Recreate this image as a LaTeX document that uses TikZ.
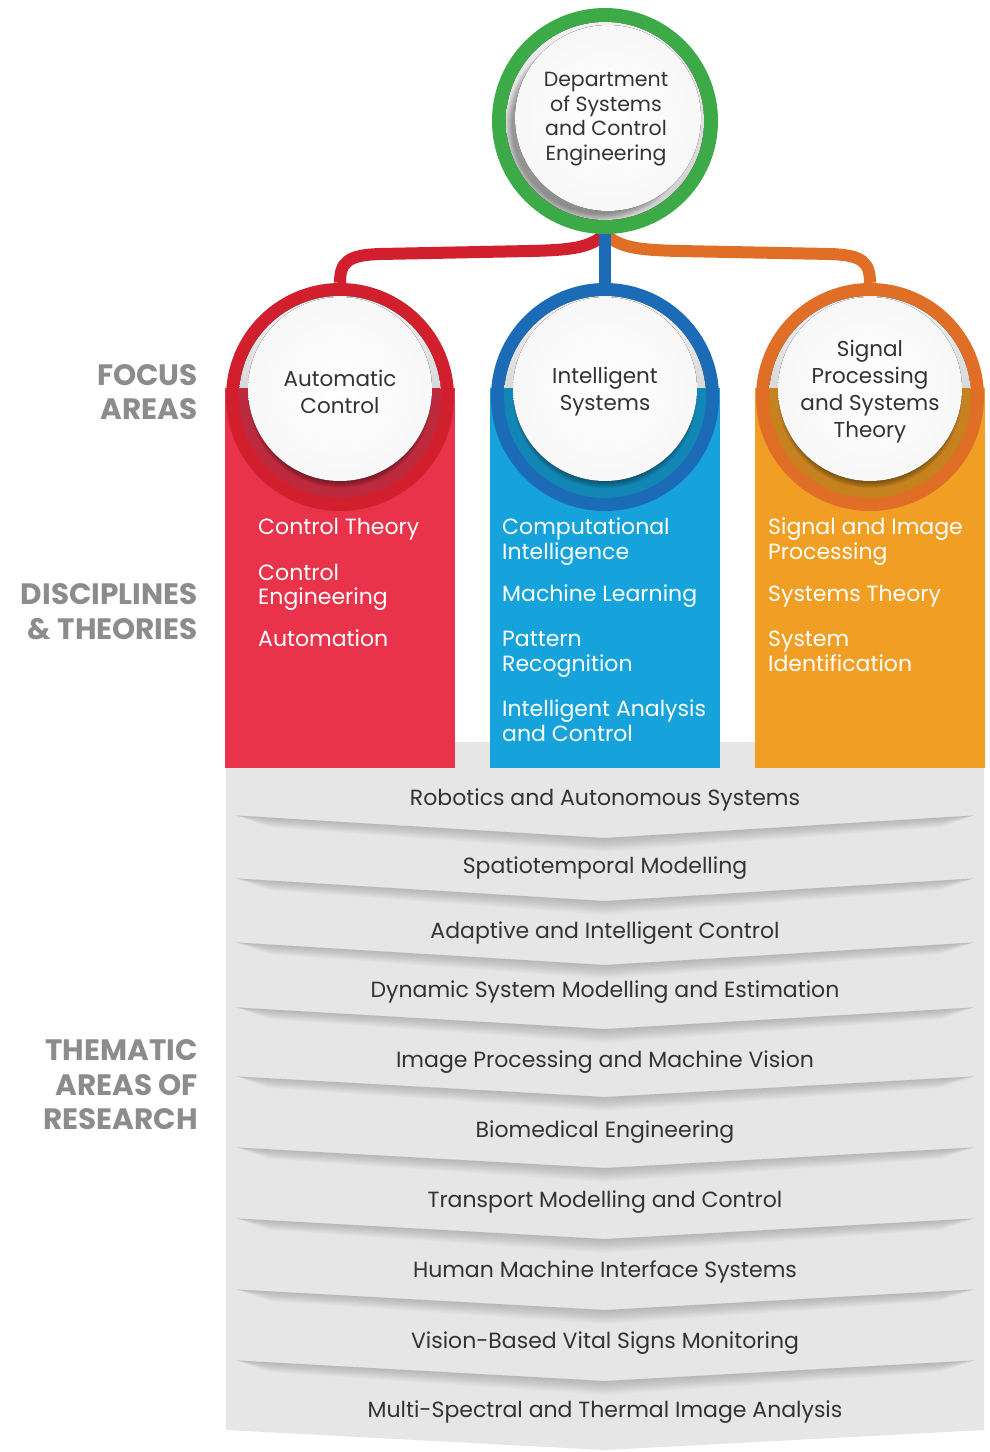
\documentclass[tikz,border=0pt]{standalone}
\usepackage{fontspec}
\setmainfont{Poppins}
\usetikzlibrary{calc}
\definecolor{ringgreen}{HTML}{3BAA47}
\definecolor{ringred}{HTML}{D21F2E}
\definecolor{colred}{HTML}{E8334A}
\definecolor{ringblue}{HTML}{1B6BB7}
\definecolor{colblue}{HTML}{16A3DC}
\definecolor{ringorange}{HTML}{E06E27}
\definecolor{colorange}{HTML}{F19F24}
\definecolor{bandgray}{HTML}{E6E6E6}
\definecolor{labelgray}{HTML}{8C8C8C}
\definecolor{inkgray}{HTML}{333333}
\pgfdeclarelayer{bg}
\pgfsetlayers{bg,main}

% one focus-area ring: name, centre x, ring colour, column colour, label
\newcommand\focusring[5]{%
  \node[ringnode=#3] (#1) at (#2,397) {};
  \begin{scope}
    \clip (#2,397) circle (101);
    \fill[top color=gray!10, bottom color=gray!30] ({#2-101},296) rectangle ({#2+101},388);
    \fill[#4!82!black] ({#2-101},388) rectangle ({#2+101},498);
    \foreach \r in {0,...,6}{\fill[black,opacity=0.06] (#2,396) circle ({86+\r});}
  \end{scope}
  \fill[inner color=white, outer color=gray!6] (#2,389) circle (92);
  \node[circtext] (#1-label) at (#2,392) {#5};
}

\begin{document}
\begin{tikzpicture}[x=1pt,y=-1pt,
  ringnode/.style={circle, inner sep=0pt, minimum size=228pt, fill=#1},
  link/.style={line width=12pt, draw=#1},
  circtext/.style={align=center, text=inkgray, inner sep=0pt, font=\fontsize{21.5}{27}\selectfont},
  coltext/.style={align=left, text=white, anchor=north west, inner sep=0pt, font=\fontsize{22}{24.5}\selectfont},
  bandtext/.style={text=inkgray, anchor=base, inner sep=0pt, font=\fontsize{22}{24}\selectfont},
  sidelabel/.style={align=right, text=labelgray, anchor=east, inner sep=0pt, font=\bfseries\fontsize{29.5}{34.5}\selectfont},
]
\useasboundingbox (0,0) rectangle (989,1452);

% department ring
\node[ringnode=ringgreen, minimum size=226pt] (dept) at (605,121) {};
\begin{scope}
  \clip (605,121) circle (99);
  \fill[top color=gray!12, bottom color=gray!38] (506,22) rectangle (704,220);
  \foreach \r in {0,...,6}{\fill[black,opacity=0.05] (600,126) circle ({88+\r});}
\end{scope}
\fill[inner color=white, outer color=gray!6] (608,118) circle (93);
\node[circtext, font=\fontsize{20.5}{24.6}\selectfont] (dept-label) at (606,119)
  {Department\\of Systems\\and Control\\Engineering};

% focus areas
\focusring{ac}{340}{ringred}{colred}{Automatic\\Control}
\focusring{is}{605}{ringblue}{colblue}{Intelligent\\Systems}
\focusring{sp}{870}{ringorange}{colorange}{Signal\\Processing\\and Systems\\Theory}

% disciplines and theories
\node[coltext] (ac-d1) at (258,518) {Control Theory};
\node[coltext] (ac-d2) at (258,564) {Control\\Engineering};
\node[coltext] (ac-d3) at (258,630) {Automation};
\node[coltext] (is-d1) at (502,518) {Computational\\Intelligence};
\node[coltext] (is-d2) at (502,585) {Machine Learning};
\node[coltext] (is-d3) at (502,631) {Pattern\\Recognition};
\node[coltext] (is-d4) at (502,700) {Intelligent Analysis\\and Control};
\node[coltext] (sp-d1) at (768,518) {Signal and Image\\Processing};
\node[coltext] (sp-d2) at (768,585) {Systems Theory};
\node[coltext] (sp-d3) at (768,631) {System\\Identification};

% thematic areas of research
\node[bandtext] (t1) at (605,805.5) {Robotics and Autonomous Systems};
\node[bandtext] (t2) at (605,873.5) {Spatiotemporal Modelling};
\node[bandtext] (t3) at (605,938.5) {Adaptive and Intelligent Control};
\node[bandtext] (t4) at (605,997.5) {Dynamic System Modelling and Estimation};
\node[bandtext] (t5) at (605,1067.5) {Image Processing and Machine Vision};
\node[bandtext] (t6) at (605,1137.5) {Biomedical Engineering};
\node[bandtext] (t7) at (605,1207.5) {Transport Modelling and Control};
\node[bandtext] (t8) at (605,1277.5) {Human Machine Interface Systems};
\node[bandtext] (t9) at (605,1348.5) {Vision-Based Vital Signs Monitoring};
\node[bandtext] (t10) at (605,1417.5) {Multi-Spectral and Thermal Image Analysis};

% row labels
\node[sidelabel] (lab-focus) at (198,392) {FOCUS\\AREAS};
\node[sidelabel] (lab-disc) at (198,611.5) {DISCIPLINES\\\&~THEORIES};
\node[sidelabel] (lab-them) at (198,1085) {THEMATIC\\AREAS OF\\RESEARCH};

\begin{pgfonlayer}{bg}
  \fill[white] (0,0) rectangle (989,1452);
  % research band with chevron folds
  \fill[bandgray] (226,742) -- (984,742) -- (984,1430) -- (605,1450) -- (226,1430) -- cycle;
  \foreach \e/\a in {815/838,878/901,942/965,1007/1029,1076/1097,1147/1168,1218/1239,1289/1310,1360/1381}{
    \pgfmathsetmacro\d{\a-\e}
    \foreach \k in {1,...,10}{
      \pgfmathsetmacro\s{1.4*\k}
      \fill[black,opacity=0.018] (236,{\e+0.02*\d}) -- (605,\a) -- (974,{\e+0.02*\d})
        -- (940,{\e+0.11*\d+0.7*\s}) -- (605,{\a+\s}) -- (270,{\e+0.11*\d+0.7*\s}) -- cycle;
    }
  }
  % columns
  \fill[colred] (225,388) rectangle (455,768);
  \fill[colblue] (490,388) rectangle (720,768);
  \fill[colorange] (755,388) rectangle (985,768);
  % links from the department to the focus areas
  \draw[link=ringred] (dept.south) .. controls (590,247) and (575,250) .. (530,251)
    -- (380,254) .. controls (348,255) and (340,262) .. (ac.north);
  \draw[link=ringorange] (dept.south) .. controls (620,247) and (635,250) .. (680,251)
    -- (830,254) .. controls (862,255) and (870,262) .. (sp.north);
  \draw[link=ringblue] (dept.south) -- (is.north);
\end{pgfonlayer}
\end{tikzpicture}
\end{document}
